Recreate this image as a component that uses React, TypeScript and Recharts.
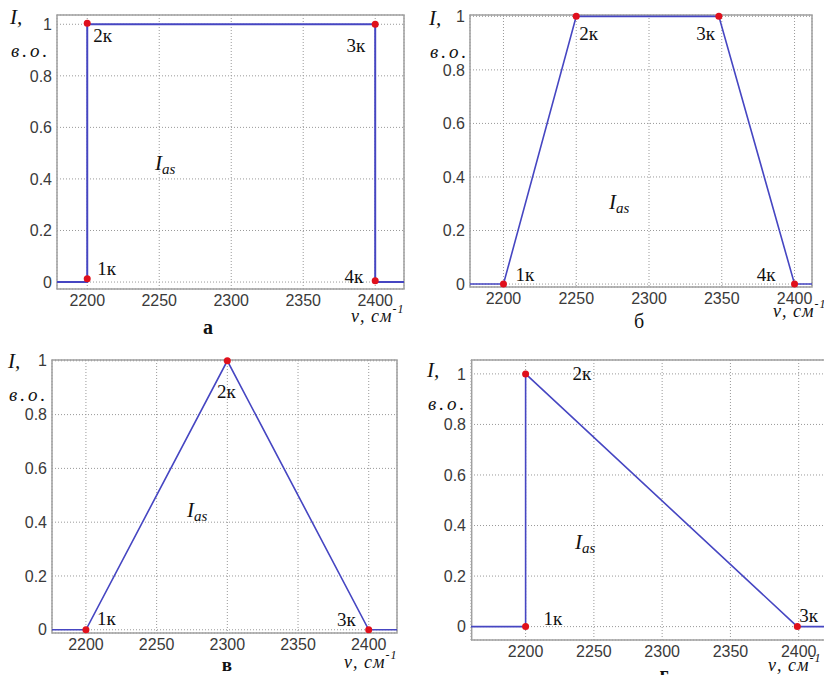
import React from 'react';
import {
  ComposedChart,
  Line,
  Scatter,
  XAxis,
  YAxis,
  CartesianGrid,
  ReferenceArea,
} from 'recharts';

const xTicks = [2200, 2250, 2300, 2350, 2400];
const yTicks = [0, 0.2, 0.4, 0.6, 0.8, 1];

// а - rectangular contour
const edgeA = [
  { x: 2179, y: 0 },
  { x: 2200, y: 0 },
  { x: 2200, y: 1 },
  { x: 2400, y: 1 },
  { x: 2400, y: 0 },
  { x: 2420, y: 0 },
];
const pointsA = [
  { x: 2200, y: 0.013, name: '1к' },
  { x: 2200, y: 1.004, name: '2к' },
  { x: 2400, y: 1, name: '3к' },
  { x: 2400, y: 0.005, name: '4к' },
];

// б - trapezoid
const edgeB = [
  { x: 2177, y: 0 },
  { x: 2200, y: 0 },
  { x: 2250, y: 1 },
  { x: 2348, y: 1 },
  { x: 2400, y: 0 },
  { x: 2412, y: 0 },
];
const pointsB = [
  { x: 2200, y: 0, name: '1к' },
  { x: 2250, y: 1, name: '2к' },
  { x: 2348, y: 1, name: '3к' },
  { x: 2400, y: 0, name: '4к' },
];

// в - triangle
const edgeC = [
  { x: 2176, y: 0 },
  { x: 2200, y: 0 },
  { x: 2300, y: 1 },
  { x: 2400, y: 0 },
  { x: 2420, y: 0 },
];
const pointsC = [
  { x: 2200, y: 0, name: '1к' },
  { x: 2300, y: 1, name: '2к' },
  { x: 2400, y: 0, name: '3к' },
];

// г - right triangle
const edgeD = [
  { x: 2160, y: 0 },
  { x: 2200, y: 0 },
  { x: 2200, y: 1 },
  { x: 2399, y: 0 },
  { x: 2420, y: 0 },
];
const pointsD = [
  { x: 2200, y: 0, name: '1к' },
  { x: 2200, y: 1, name: '2к' },
  { x: 2399, y: 0, name: '3к' },
];

const LINE = '#4646c2';
const DOT = '#e0101c';
const SERIF = '"Liberation Serif", "Times New Roman", serif';
const SANS = '"Liberation Sans", Arial, sans-serif';

type Off = Record<string, [number, number, 'start' | 'middle' | 'end']>;

const Panel = ({ edge, points, box, xDomain, yDomain, offsets, lw }: any) => {
  const padL = 60;
  const padT = 12;
  const padR = 12;
  const padB = 30;
  const width = box.r - box.l + padL + padR;
  const height = box.b - box.t + padT + padB;
  const off: Off = offsets;
  const shape = (p: any) => {
    const o = off[p.payload.name];
    return (
      <g>
        <circle cx={p.cx} cy={p.cy} r={3.5} fill={DOT} />
        <text
          x={p.cx + o[0]}
          y={p.cy + o[1]}
          textAnchor={o[2]}
          dominantBaseline="central"
          fontFamily={SERIF}
          fontSize={19}
          fill="#111"
        >
          {p.payload.name}
        </text>
      </g>
    );
  };
  return (
    <div style={{ position: 'absolute', left: box.l - padL, top: box.t - padT }}>
      <ComposedChart
        width={width}
        height={height}
        margin={{ top: padT, right: padR, left: 0, bottom: 0 }}
      >
        <CartesianGrid stroke="#999" strokeDasharray="1 2" />
        <XAxis
          type="number"
          dataKey="x"
          domain={xDomain}
          ticks={xTicks}
          interval={0}
          height={padB}
          tickSize={0}
          tickMargin={6}
          axisLine={false}
          tick={{ fill: '#3a3a3a', fontSize: 16, fontFamily: SANS }}
        />
        <YAxis
          type="number"
          dataKey="y"
          domain={yDomain}
          ticks={yTicks}
          interval={0}
          width={padL}
          tickSize={0}
          tickMargin={5}
          axisLine={false}
          tick={{ fill: '#3a3a3a', fontSize: 16, fontFamily: SANS }}
        />
        <ReferenceArea
          x1={xDomain[0]}
          x2={xDomain[1]}
          y1={yDomain[0]}
          y2={yDomain[1]}
          fill="none"
          stroke="#a0a0a0"
          strokeWidth={1.5}
          ifOverflow="visible"
        />
        <Line
          data={edge}
          dataKey="y"
          type="linear"
          stroke={LINE}
          strokeWidth={lw}
          dot={false}
          activeDot={false}
          isAnimationActive={false}
        />
        <Scatter data={points} dataKey="y" shape={shape} isAnimationActive={false} />
      </ComposedChart>
    </div>
  );
};

const T = ({ left, cy, size = 20, italic = true, bold = false, center = false, spacing = 0, children }: any) => (
  <div
    style={{
      position: 'absolute',
      left: center ? left - 40 : left,
      width: center ? 80 : undefined,
      textAlign: center ? 'center' : 'left',
      top: cy - size / 2,
      fontSize: size,
      lineHeight: 1,
      letterSpacing: spacing,
      fontFamily: SERIF,
      fontStyle: italic ? 'italic' : 'normal',
      fontWeight: bold ? 'bold' : 'normal',
      color: '#111',
      whiteSpace: 'nowrap',
    }}
  >
    {children}
  </div>
);

const Ias = ({ left, cy }: any) => (
  <T left={left} cy={cy} size={21}>
    I<span style={{ fontSize: 15, position: 'relative', top: 4 }}>as</span>
  </T>
);

const Nu = ({ left, cy }: any) => (
  <T left={left} cy={cy} size={18} spacing={1}>
    ν, см<span style={{ fontSize: 12, position: 'relative', top: -9 }}>-1</span>
  </T>
);

const Ylab = ({ left, top }: any) => (
  <>
    <T left={left} cy={top} size={21}>I,</T>
    <T left={left + 1} cy={top + 33} size={19} spacing={3}>в.о.</T>
  </>
);

export default function App() {
  return (
    <div
      style={{
        position: 'absolute',
        left: 0,
        top: 0,
        width: 824,
        height: 675,
        overflow: 'hidden',
        background: '#fff',
      }}
    >
      <Panel
        edge={edgeA}
        points={pointsA}
        box={{ l: 57, t: 15, r: 404, b: 289 }}
        xDomain={[2179, 2420]}
        yDomain={[-0.027, 1.036]}
        lw={2}
        offsets={{
          '1к': [10, -10, 'start'],
          '2к': [6, 12, 'start'],
          '3к': [-10, 21, 'end'],
          '4к': [-12, -4, 'end'],
        }}
      />
      <Panel
        edge={edgeB}
        points={pointsB}
        box={{ l: 470, t: 15, r: 812, b: 287 }}
        xDomain={[2177, 2412]}
        yDomain={[-0.011, 1.005]}
        lw={1.6}
        offsets={{
          '1к': [12, -10, 'start'],
          '2к': [3, 17, 'start'],
          '3к': [-4, 17, 'end'],
          '4к': [-19, -10, 'end'],
        }}
      />
      <Panel
        edge={edgeC}
        points={pointsC}
        box={{ l: 52, t: 360, r: 397, b: 633 }}
        xDomain={[2176, 2420]}
        yDomain={[-0.012, 1.003]}
        lw={1.6}
        offsets={{
          '1к': [11, -11, 'start'],
          '2к': [-1, 31, 'middle'],
          '3к': [-13, -10, 'end'],
        }}
      />
      <Panel
        edge={edgeD}
        points={pointsD}
        box={{ l: 471, t: 360, r: 826, b: 640 }}
        xDomain={[2160.5, 2420]}
        yDomain={[-0.053, 1.055]}
        lw={1.6}
        offsets={{
          '1к': [18, -8, 'start'],
          '2к': [47, 0, 'start'],
          '3к': [2, -11, 'start'],
        }}
      />

      {/* а */}
      <Ylab left={10} top={17} />
      <Ias left={155} cy={163} />
      <Nu left={351} cy={316} />
      <T left={208} cy={327} size={20} italic={false} bold center>а</T>

      {/* б */}
      <Ylab left={429} top={18} />
      <Ias left={609} cy={202} />
      <Nu left={773} cy={311} />
      <T left={639} cy={321} size={20} italic={false} center>б</T>

      {/* в */}
      <Ylab left={8} top={361} />
      <Ias left={187} cy={510} />
      <Nu left={344} cy={662} />
      <T left={227} cy={664} size={19} italic={false} bold center>в</T>

      {/* г */}
      <Ylab left={427} top={370} />
      <Ias left={575} cy={542} />
      <Nu left={768} cy={665} />
      <T left={664} cy={674} size={20} italic={false} bold center>г</T>
    </div>
  );
}
